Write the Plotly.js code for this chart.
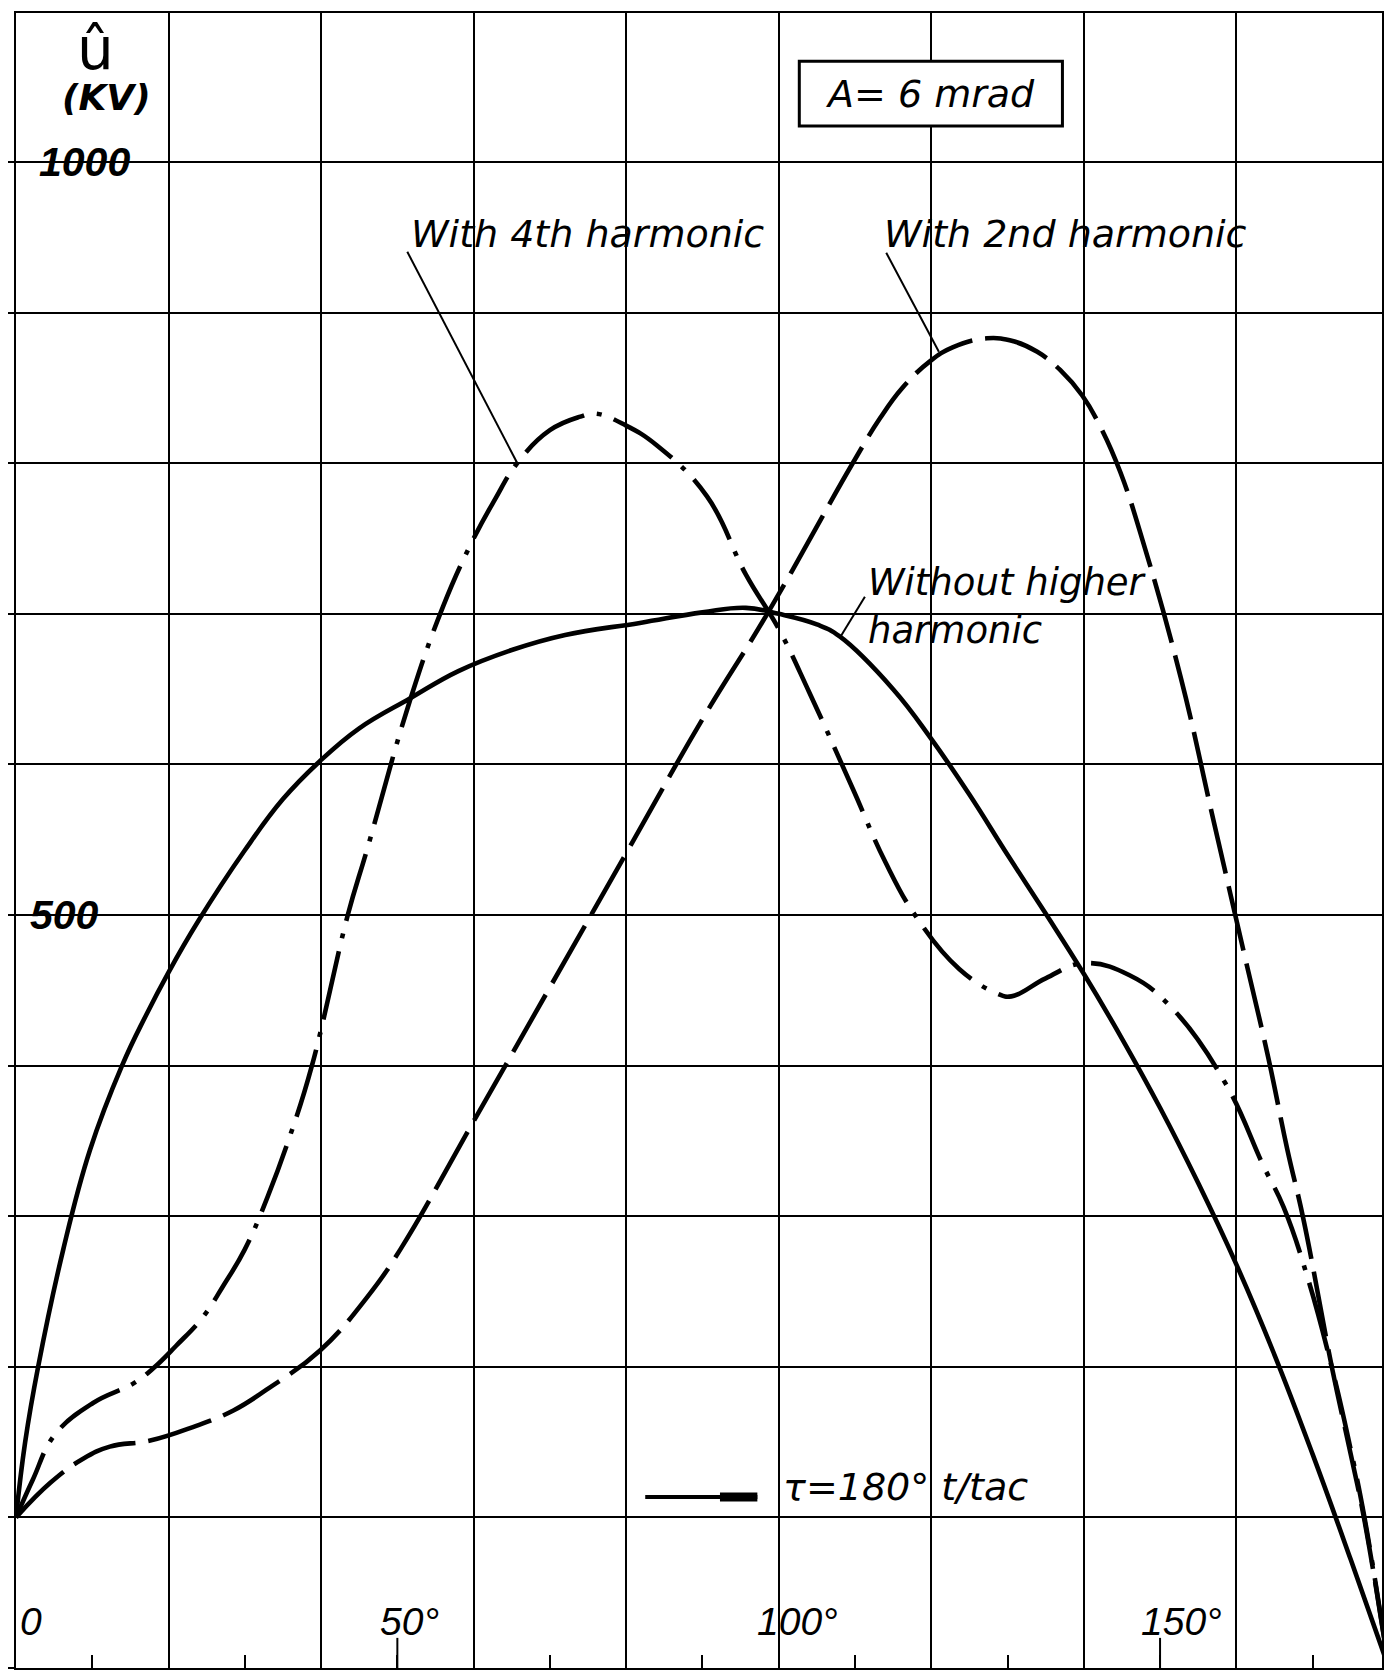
<!DOCTYPE html>
<html>
<head>
<meta charset="utf-8">
<script src="https://cdn.plot.ly/plotly-3.0.1.min.js"></script>
<style>
  html, body { margin: 0; padding: 0; background: #fff; }
  #chart { width: 1384px; height: 1671px; }
</style>
</head>
<body>
<div id="chart"></div>
<script>
// ---- Data (angle in degrees, peak voltage in kV) ----
const angleNoHarmonic = [0, 1.2, 2.9, 6.2, 9.7, 13.9, 17, 20, 23.9, 30, 35, 39.8, 45, 51.7, 58, 65, 72, 81.8, 90, 95.7, 100, 105, 108, 115, 120, 125, 130, 135, 140, 145, 150, 155, 160, 165, 170, 175, 180];
const kvNoHarmonic    = [100, 150, 200, 278, 344, 400, 433, 462, 496, 543, 577, 602, 624, 644, 662, 676, 686, 694, 701, 704, 700, 693, 685, 650, 617, 580, 540, 501, 461, 418, 372, 322, 268, 208, 142, 72, 0];

const angle4th = [0, 2.2, 5.1, 10.1, 15.4, 18, 21, 24.5, 27.2, 30, 33, 35.9, 38.8, 43.5, 46, 51.5, 56, 60, 62.8, 65.7, 70, 74, 76, 80, 84, 90.6, 95.7, 100, 104, 109.7, 114, 118, 123.7, 128.6, 130.5, 135, 140, 146, 151.6, 158.6, 163.5, 166.2, 169.3, 172.6, 175, 176.8, 180];
const kv4th    = [100, 125, 155, 176, 189, 199, 214, 233, 254, 278, 313, 353, 400, 500, 543, 640, 705, 750, 776, 800, 822, 831, 833, 825, 812, 778, 726, 690, 648, 584, 535, 499, 464, 448, 446, 458, 468, 460, 438, 388, 334, 306, 260, 198, 145, 100, 0];

const angle2nd = [0, 4.5, 8.8, 12.3, 17.6, 23.2, 28.5, 32.9, 39.9, 46, 50.4, 60, 70, 80, 90, 98.5, 109.7, 113.3, 116.2, 119.9, 122.8, 127.3, 130.8, 133.9, 136.9, 139.8, 142.2, 144.8, 147.7, 152.7, 157, 161, 164.2, 166.7, 168.8, 172.6, 175, 176.8, 180];
const kv2nd    = [100, 123, 139, 147, 151, 160, 171, 185, 211, 246, 278, 363, 452, 541, 630, 700, 800, 830, 850, 868, 877, 883, 881, 874, 862, 845, 824, 794, 749, 658, 563, 475, 405, 344, 298, 198, 142, 98, 0];

const xTickLabels = ["0", "50°", "100°", "150°"];
const xTickLabelAt = [0, 50, 100, 150];
const yTickLabels = ["1000", "500"];
const yTickLabelAt = [1000, 500];

// ---- Traces ----
const curveStyle = (dash) => ({ color: '#000', width: 4.6, dash: dash, shape: 'spline', smoothing: 1.2 });
const traces = [
  { x: angleNoHarmonic, y: kvNoHarmonic, mode: 'lines', line: curveStyle('solid'), name: 'Without higher harmonic', hoverinfo: 'skip' },
  { x: angle4th, y: kv4th, mode: 'lines', line: curveStyle('70px,13px,5px,13px'), name: 'With 4th harmonic', hoverinfo: 'skip' },
  { x: angle2nd, y: kv2nd, mode: 'lines', line: curveStyle('66px,13px'), name: 'With 2nd harmonic', hoverinfo: 'skip' }
];

const wordFont = { family: 'DejaVu Sans', size: 38, color: '#000', style: 'italic' };
const numFont = { family: 'Liberation Sans', size: 41, color: '#000', style: 'italic', weight: 'bold' };
const axNumFont = { family: 'Liberation Sans', size: 39, color: '#000', style: 'italic' };

const annotations = [];
// x labels (inside the plot, below the 100 kV line)
const xShift = [2, -19, -24, -21];
xTickLabels.forEach((t, i) => annotations.push({
  x: xTickLabelAt[i], y: 31, xref: 'x', yref: 'y', text: t, showarrow: false,
  xanchor: 'left', yanchor: 'middle', xshift: xShift[i], font: axNumFont
}));
// y labels
const yLeft = [2.8, 1.6];
yTickLabels.forEach((t, i) => annotations.push({
  x: yLeft[i], y: yTickLabelAt[i], xref: 'x', yref: 'y', text: t, showarrow: false,
  xanchor: 'left', yanchor: 'middle', font: numFont
}));
annotations.push(
  { x: 10.4, y: 1075, xref: 'x', yref: 'y', text: 'û', showarrow: false, font: { family: 'DejaVu Sans', size: 58, color: '#000' } },
  { x: 11.9, y: 1043, xref: 'x', yref: 'y', text: '(KV)', showarrow: false, font: { family: 'DejaVu Sans', size: 36, color: '#000', style: 'italic', weight: 'bold' } },
  { x: 119.9, y: 1045.5, xref: 'x', yref: 'y', text: 'A= 6 mrad', showarrow: false, font: wordFont },
  { x: 74.9, y: 952, xref: 'x', yref: 'y', text: 'With 4th harmonic', showarrow: false, font: wordFont },
  { x: 137.6, y: 952, xref: 'x', yref: 'y', text: 'With 2nd harmonic', showarrow: false, font: wordFont },
  { x: 111.5, y: 705, xref: 'x', yref: 'y', text: 'Without higher<br>harmonic', showarrow: false, xanchor: 'left', align: 'left', yanchor: 'middle', font: { family: 'DejaVu Sans', size: 37, color: '#000', style: 'italic' } },
  { x: 116.6, y: 120, xref: 'x', yref: 'y', text: 'τ=180° t/tac', showarrow: false, font: wordFont }
);

const shapes = [
  // A = 6 mrad frame
  { type: 'rect', xref: 'x', yref: 'y', x0: 102.7, x1: 137.2, y0: 1024, y1: 1067, line: { color: '#000', width: 3 }, fillcolor: '#fff', layer: 'above' },
  // leader lines
  { type: 'line', xref: 'x', yref: 'y', x0: 51.3, y0: 940.5, x1: 65.7, y1: 800.3, line: { color: '#000', width: 2 } },
  { type: 'line', xref: 'x', yref: 'y', x0: 114.1, y0: 939.8, x1: 121.0, y1: 874.1, line: { color: '#000', width: 2 } },
  { type: 'line', xref: 'x', yref: 'y', x0: 111.3, y0: 711.3, x1: 108.1, y1: 684.8, line: { color: '#000', width: 2 } },
  // arrow
  { type: 'line', xref: 'x', yref: 'y', x0: 82.5, y0: 113.6, x1: 97.2, y1: 113.6, line: { color: '#000', width: 4 } },
  { type: 'line', xref: 'x', yref: 'y', x0: 92.3, y0: 113.6, x1: 97.2, y1: 113.6, line: { color: '#000', width: 9 } },
  // long ticks at 50 and 150
  { type: 'line', xref: 'x', yref: 'y', x0: 50, y0: 0, x1: 50, y1: 20, line: { color: '#000', width: 2 } },
  { type: 'line', xref: 'x', yref: 'y', x0: 150, y0: 0, x1: 150, y1: 20, line: { color: '#000', width: 2 } }
];

const layout = {
  width: 1384, height: 1671,
  margin: { l: 16, r: 2, t: 13, b: 3, pad: 0 },
  paper_bgcolor: '#fff', plot_bgcolor: '#fff',
  showlegend: false,
  xaxis: {
    range: [0, 179.1], tick0: 0, dtick: 20, showgrid: true, gridcolor: '#000', gridwidth: 2,
    zeroline: false, showline: true, linecolor: '#000', linewidth: 2, mirror: true,
    ticks: 'inside', ticklen: 13, tickwidth: 2, tickcolor: '#000', showticklabels: false, automargin: false,
    minor: { tick0: 0, dtick: 10, ticks: 'inside', ticklen: 13, tickwidth: 2, tickcolor: '#000', showgrid: false },
    fixedrange: true
  },
  yaxis: {
    range: [0, 1099], tick0: 0, dtick: 100, showgrid: true, gridcolor: '#000', gridwidth: 2,
    zeroline: false, showline: true, linecolor: '#000', linewidth: 2, mirror: true,
    ticks: 'outside', ticklen: 6, tickwidth: 2, tickcolor: '#000', showticklabels: false, automargin: false,
    fixedrange: true
  },
  annotations: annotations,
  shapes: shapes
};

Plotly.newPlot('chart', traces, layout, { displayModeBar: false, staticPlot: true });
</script>
</body>
</html>
